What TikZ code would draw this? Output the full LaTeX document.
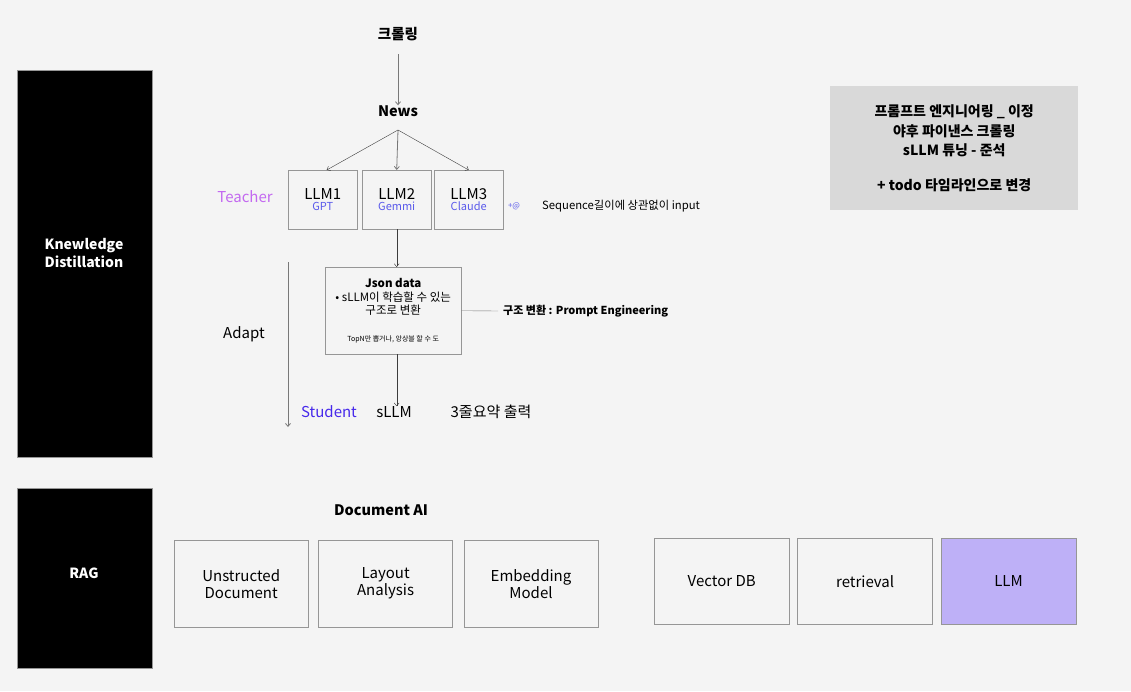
\documentclass[tikz,border=0pt]{standalone}
\usepackage{fontspec}
\setmainfont{Noto Sans CJK KR}
\usetikzlibrary{arrows.meta,positioning}
\definecolor{paper}{RGB}{244,244,244}
\definecolor{boxline}{RGB}{150,150,150}
\definecolor{wire}{RGB}{120,120,120}
\definecolor{darkwire}{RGB}{60,60,60}
\definecolor{teachercol}{RGB}{195,105,240}
\definecolor{modelblue}{RGB}{90,90,235}
\definecolor{studentcol}{RGB}{70,40,235}
\definecolor{notegray}{RGB}{217,217,217}
\definecolor{lavender}{RGB}{190,176,247}
\newcommand{\fs}[1]{\fontsize{#1}{1.2\dimexpr#1pt\relax}\selectfont}

\begin{document}
\begin{tikzpicture}[x=1pt,y=-1pt,>={Straight Barb[length=3pt,width=5pt]},
  txt/.style={inner sep=1pt,align=center,font=\fs{15}},
  title/.style={inner sep=1pt,font=\fs{14.5}\bfseries},
  box/.style={draw=boxline,fill=paper,inner sep=0pt,align=center,anchor=north west,font=\fs{15}},
  modelbox/.style={box,minimum width=69,minimum height=59},
  docbox/.style={box,minimum width=134,minimum height=87},
  ragbox/.style={box,minimum width=135,minimum height=86},
  section/.style={fill=black,draw=boxline,line width=0.4pt,anchor=north west,minimum width=135,inner sep=0pt},
  sectext/.style={text=white,align=center,font=\fs{14}\bfseries,inner sep=1pt},
  sub/.style={font=\fs{11},text=modelblue}]
  \useasboundingbox (0,0) rectangle (1131,691);
  \fill[paper] (0,0) rectangle (1131,691);

  \node[section,minimum height=387] (kd) at (17,70) {};
  \node[sectext] (kdlabel) at (84,253) {Knewledge\\[1pt]Distillation};
  \node[section,minimum height=180] (rag) at (17,488) {};
  \node[sectext] (raglabel) at (84,573) {RAG};

  \node[title] (crawl) at (398,34) {크롤링};
  \node[title] (news) at (398,111) {News};
  \draw[->,wire,thick] ([yshift=-12pt]crawl.south) -- ([yshift=-1pt]news.north);
  \coordinate (fork) at (398,130);

  \node[modelbox] (llm1) at (288,170) {LLM1\\[-7pt]{\fs{11}\color{modelblue}GPT}};
  \node[modelbox] (llm2) at (362,170) {LLM2\\[-7pt]{\fs{11}\color{modelblue}Gemmi}};
  \node[modelbox] (llm3) at (434,170) {LLM3\\[-7pt]{\fs{11}\color{modelblue}Claude}};
  \draw[->,darkwire] (fork) -- ([xshift=4pt]llm1.north);
  \draw[->,wire,thick] (fork) -- (llm2.north);
  \draw[->,darkwire] (fork) -- (llm3.north);
  \node[txt,text=teachercol] (teacher) at (245,197) {Teacher};
  \node[sub,font=\fs{8}] (plus) at (514,206) {+@};
  \node[txt,font=\fs{11.3},anchor=west] (seq) at (541,206) {Sequence길이에 상관없이 input};

  \node[box,minimum width=136,minimum height=87,font=\fs{11.5}] (json) at (325,267)
    {\textbf{Json data}\\[0pt]• sLLM이 학습할 수 있는\\[0pt]구조로 변환\\[13pt]{\fs{7}TopN만 뽑거나, 앙상블 할 수 도}};
  \draw[->,darkwire] (llm2.south) -- (llm2.south |- json.north);
  \node[inner sep=1pt,font=\fs{11}\bfseries,anchor=west] (prompt) at (502,311) {구조 변환 : Prompt Engineering};
  \draw[wire] (json.east) -- ([xshift=-4pt]prompt.west);

  \node[txt] (student) at (329,412) {\color{studentcol}Student};
  \node[txt] (sllm) at (394,412) {sLLM};
  \node[txt] (summary) at (491,412) {3줄요약 출력};
  \draw[->,darkwire] (llm2.south |- json.south) -- ([yshift=-1pt]sllm.north -| llm2.south);

  \coordinate (adapttop) at (288,262);
  \coordinate (adaptbot) at (288,427);
  \draw[->,wire,thick] (adapttop) -- (adaptbot);
  \node[txt] (adapt) at (244,334) {Adapt};

  \node[fill=notegray,anchor=north west,minimum width=248,minimum height=124,inner sep=0pt,
    align=center,font=\fs{14}\bfseries] (todo) at (830,86)
    {프롬프트 엔지니어링 {\char`\_} 이정\\[3pt]야후 파이낸스 크롤링\\[3pt]sLLM 튜닝 - 준석\\[18pt]+ todo 타임라인으로 변경};

  \node[title] (docai) at (381,510) {Document AI};
  \node[docbox] (unstruct) at (174,540) {Unstructed\\[-1pt]Document};
  \node[docbox,right=10pt of unstruct] (layout) {Layout\\[-1pt]Analysis};
  \node[docbox,right=11pt of layout] (embed) {Embedding\\[-1pt]Model};
  \node[ragbox] (vecdb) at (654,538) {Vector DB};
  \node[ragbox,right=8pt of vecdb] (retr) {retrieval};
  \node[ragbox,right=8pt of retr,fill=lavender] (llm) {LLM};
\end{tikzpicture}
\end{document}
